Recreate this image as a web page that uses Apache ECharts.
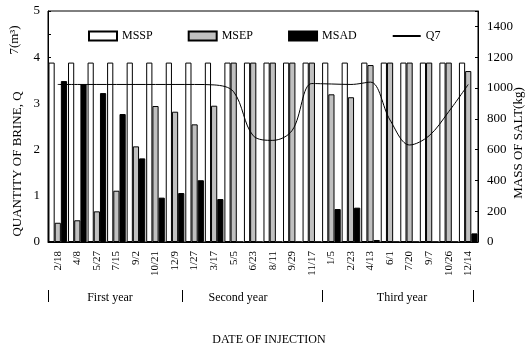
<!DOCTYPE html>
<html>
<head>
<meta charset="utf-8">
<script src="https://cdn.jsdelivr.net/npm/echarts@6/dist/echarts.min.js"></script>
<style>
  html, body { margin: 0; padding: 0; background: #fff; }
  #main { width: 526px; height: 349px; }
</style>
</head>
<body>
<div id="main"></div>
<script>
// injection dates
var dates = ['2/18', '4/8', '5/27', '7/15', '9/2', '10/21', '12/9',
  '1/27', '3/17', '5/5', '6/23', '8/11', '9/29', '11/17',
  '1/5', '2/23', '4/13', '6/1', '7/20', '9/7', '10/26', '12/14'];

// mass of salt (kg)
var mssp = [1165, 1165, 1165, 1165, 1165, 1165, 1165, 1165, 1165, 1165, 1165,
  1165, 1165, 1165, 1165, 1165, 1165, 1165, 1165, 1165, 1165, 1165];
var msep = [125, 141, 199, 333, 621, 883, 846, 764, 885, 1165, 1165,
  1165, 1165, 1165, 959, 940, 1149, 1165, 1165, 1165, 1165, 1110];
var msad = [1045, 1024, 967, 831, 543, 288, 318, 401, 279, 0, 0,
  0, 0, 0, 214, 223, 13, 0, 0, 0, 0, 56];

// quantity of brine Q7 (m3)
var q7 = [3.41, 3.41, 3.41, 3.41, 3.41, 3.41, 3.41, 3.41, 3.40, 3.25, 2.30,
  2.20, 2.42, 3.43, 3.42, 3.41, 3.46, 2.64, 2.10, 2.30, 2.82, 3.41];

var font = 'Liberation Serif';

var chart = echarts.init(document.getElementById('main'));

var option = {
  animation: false,
  textStyle: { fontFamily: font, color: '#000' },
  grid: {
    left: 48, right: 48, top: 11, bottom: 107,
    show: true, borderColor: '#000', borderWidth: 1
  },
  legend: {
    left: 88, top: 30, padding: 0,
    itemWidth: 28, itemHeight: 9, itemGap: 35,
    textStyle: { fontFamily: font, fontSize: 12, color: '#000' },
    data: [
      { name: 'MSSP', icon: 'rect' },
      { name: 'MSEP', icon: 'rect' },
      { name: 'MSAD', icon: 'rect' },
      { name: 'Q7', itemStyle: { opacity: 0 } }  // 只要线,不要圆点
    ]
  },
  xAxis: {
    type: 'category',
    data: dates,
    axisLine: { lineStyle: { color: '#000', width: 1 } },
    axisTick: { show: false },
    axisLabel: {
      interval: 0, rotate: 90, margin: 9,
      fontFamily: font, fontSize: 11, color: '#000'
    }
  },
  yAxis: [{
    type: 'value', min: 0, max: 5, interval: 0.5,
    splitLine: { show: false },
    axisLine: { show: true, lineStyle: { color: '#000' } },
    axisTick: { show: true, inside: true, length: 3, lineStyle: { color: '#000' } },
    axisLabel: {
      fontFamily: font, fontSize: 13, color: '#000', margin: 8,
      formatter: function (v) { return v % 1 === 0 ? v : ''; }
    }
  }, {
    type: 'value', min: 0, max: 1500, interval: 200,
    splitLine: { show: false },
    axisLine: { show: true, lineStyle: { color: '#000' } },
    axisTick: { show: true, inside: true, length: 3, lineStyle: { color: '#000' } },
    axisLabel: {
      fontFamily: font, fontSize: 13, color: '#000', margin: 9,
      formatter: function (v) { return v <= 1400 ? v : ''; }
    }
  }],
  series: [{
    name: 'MSSP', type: 'bar', yAxisIndex: 1,
    barWidth: 6.2, barGap: '0%',
    itemStyle: { color: '#fff', borderColor: '#000', borderWidth: 1 },
    data: mssp
  }, {
    name: 'MSEP', type: 'bar', yAxisIndex: 1,
    barWidth: 6.2, barGap: '0%',
    itemStyle: { color: '#c0c0c0', borderColor: '#000', borderWidth: 1 },
    data: msep
  }, {
    name: 'MSAD', type: 'bar', yAxisIndex: 1,
    barWidth: 6.2, barGap: '0%',
    itemStyle: { color: '#000', borderColor: '#000', borderWidth: 1 },
    data: msad
  }, {
    name: 'Q7', type: 'line', yAxisIndex: 0,
    smooth: 0.35, symbol: 'none', z: 5,
    lineStyle: { color: '#000', width: 1 },
    itemStyle: { color: '#000' },
    data: q7
  }],
  graphic: [
    // axis titles
    { type: 'text', x: 18, y: 164, rotation: Math.PI / 2,
      style: { text: 'QUANTITY OF BRINE, Q', font: '13px ' + font, fill: '#000', align: 'center', verticalAlign: 'middle' } },
    { type: 'text', x: 15, y: 40, rotation: Math.PI / 2,
      style: { text: '7(m³)', font: '13px ' + font, fill: '#000', align: 'center', verticalAlign: 'middle' } },
    { type: 'text', x: 519, y: 143, rotation: Math.PI / 2,
      style: { text: 'MASS OF SALT(kg)', font: '13px ' + font, fill: '#000', align: 'center', verticalAlign: 'middle' } },
    { type: 'text', x: 269, y: 340,
      style: { text: 'DATE OF INJECTION', font: '12px ' + font, fill: '#000', align: 'center', verticalAlign: 'middle' } },
    // year groups
    { type: 'text', x: 110, y: 298,
      style: { text: 'First year', font: '12px ' + font, fill: '#000', align: 'center', verticalAlign: 'middle' } },
    { type: 'text', x: 238, y: 298,
      style: { text: 'Second year', font: '12px ' + font, fill: '#000', align: 'center', verticalAlign: 'middle' } },
    { type: 'text', x: 402, y: 298,
      style: { text: 'Third year', font: '12px ' + font, fill: '#000', align: 'center', verticalAlign: 'middle' } },
    { type: 'line', shape: { x1: 48.5, y1: 290, x2: 48.5, y2: 302 }, style: { stroke: '#000', lineWidth: 1 } },
    { type: 'line', shape: { x1: 182.5, y1: 290, x2: 182.5, y2: 302 }, style: { stroke: '#000', lineWidth: 1 } },
    { type: 'line', shape: { x1: 322.5, y1: 290, x2: 322.5, y2: 302 }, style: { stroke: '#000', lineWidth: 1 } },
    { type: 'line', shape: { x1: 473.5, y1: 290, x2: 473.5, y2: 302 }, style: { stroke: '#000', lineWidth: 1 } }
  ]
};

chart.setOption(option);
</script>
</body>
</html>
